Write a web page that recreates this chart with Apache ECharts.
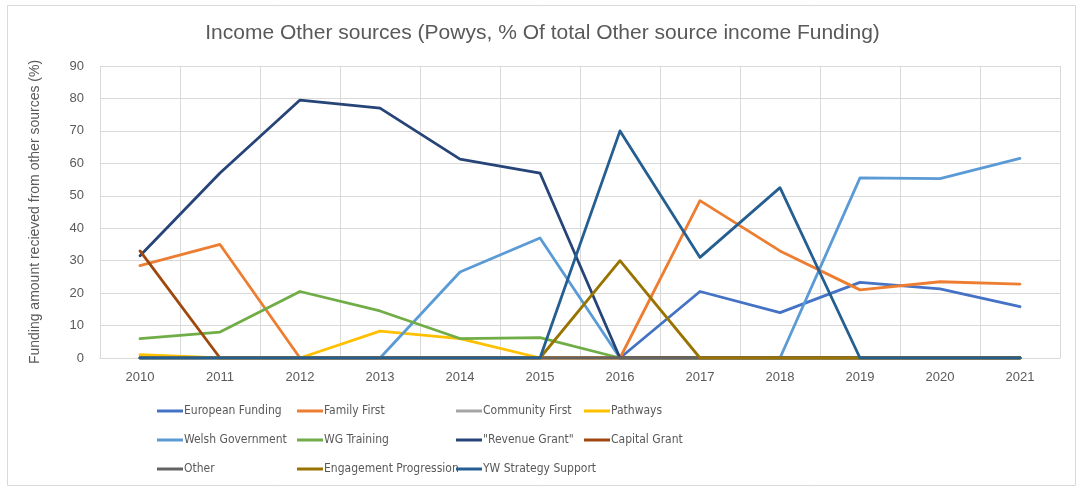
<!DOCTYPE html>
<html>
<head>
<meta charset="utf-8">
<script src="https://cdn.jsdelivr.net/npm/echarts@6/dist/echarts.min.js"></script>
<style>
  html, body { margin: 0; padding: 0; background: #fff; }
  #chart { width: 1085px; height: 490px; }
</style>
</head>
<body>
<div id="chart"></div>
<script>
const years = ['2010', '2011', '2012', '2013', '2014', '2015', '2016', '2017', '2018', '2019', '2020', '2021'];

const europeanFunding = [0, 0, 0, 0, 0, 0, 0, 20.5, 14, 23.3, 21.3, 15.8];
const familyFirst = [28.5, 35, 0, 0, 0, 0, 0, 48.5, 33, 21, 23.5, 22.8];
const communityFirst = [0, 0, 0, 0, 0, 0, 0, 0, 0, 0, 0, 0];
const pathways = [1, 0, 0, 8.3, 6, 0, 0, 0, 0, 0, 0, 0];
const welshGovernment = [0, 0, 0, 0, 26.5, 37, 0, 0, 0, 55.5, 55.3, 61.5];
const wgTraining = [6, 8, 20.5, 14.5, 6, 6.3, 0, 0, 0, 0, 0, 0];
const revenueGrant = [31.5, 57, 79.5, 77, 61.3, 57, 0, 0, 0, 0, 0, 0];
const capitalGrant = [33, 0, 0, 0, 0, 0, 0, 0, 0, 0, 0, 0];
const other = [0, 0, 0, 0, 0, 0, 0, 0, 0, 0, 0, 0];
const engagementProgression = [0, 0, 0, 0, 0, 0, 30, 0, 0, 0, 0, 0];
const ywStrategySupport = [0, 0, 0, 0, 0, 0, 70, 31, 52.5, 0, 0, 0];

const seriesDefs = [
  ['European Funding', europeanFunding, '#4472C4'],
  ['Family First', familyFirst, '#ED7D31'],
  ['Community First', communityFirst, '#A5A5A5'],
  ['Pathways', pathways, '#FFC000'],
  ['Welsh Government', welshGovernment, '#5B9BD5'],
  ['WG Training', wgTraining, '#70AD47'],
  ['"Revenue Grant"', revenueGrant, '#264478'],
  ['Capital Grant', capitalGrant, '#9E480E'],
  ['Other', other, '#636363'],
  ['Engagement Progression', engagementProgression, '#997300'],
  ['YW Strategy Support', ywStrategySupport, '#255E91'],
];

const font = '"Liberation Sans", sans-serif';
const narrowFont = '"DejaVu Sans Condensed", "Liberation Sans", sans-serif';
const textColor = '#595959';
const gridColor = '#d9d9d9';

// legend laid out in 4 columns, 3 rows (row-major order like the original)
const legendCols = [157, 297, 456, 584];
const legends = legendCols.map((left, c) => ({
  orient: 'vertical',
  left,
  top: 405,
  padding: 0,
  itemGap: 17,
  itemWidth: 26,
  itemHeight: 3,
  icon: 'rect',
  data: seriesDefs.filter((d, i) => i % 4 === c).map((d) => d[0]),
  textStyle: { fontFamily: narrowFont, fontSize: 12, color: textColor, padding: [0, 0, 0, -4] },
}));

const chart = echarts.init(document.getElementById('chart'));

chart.setOption({
  backgroundColor: '#fff',
  animation: false,
  textStyle: { fontFamily: font },
  title: {
    text: 'Income Other sources (Powys, % Of total Other source income Funding)',
    left: 'center',
    top: 18,
    textStyle: { fontFamily: font, fontSize: 21, fontWeight: 'normal', color: textColor },
  },
  graphic: [{
    type: 'rect',
    shape: { x: 7.5, y: 5.5, width: 1068, height: 480 },
    style: { fill: 'none', stroke: gridColor, lineWidth: 1 },
    silent: true,
  }],
  legend: legends,
  grid: { left: 100, right: 25, top: 66, bottom: 132 },
  xAxis: {
    type: 'category',
    data: years,
    boundaryGap: true,
    axisLine: { lineStyle: { color: gridColor } },
    axisTick: { show: false },
    axisLabel: { color: textColor, fontSize: 13, margin: 13 },
    splitLine: { show: true, lineStyle: { color: gridColor } },
  },
  yAxis: {
    type: 'value',
    min: 0,
    max: 90,
    interval: 10,
    name: 'Funding amount recieved from other sources (%)',
    nameLocation: 'middle',
    nameGap: 58,
    nameTextStyle: { fontFamily: font, fontSize: 14, color: textColor },
    axisLine: { show: false },
    axisTick: { show: false },
    axisLabel: { color: textColor, fontSize: 13, margin: 16 },
    splitLine: { lineStyle: { color: gridColor } },
  },
  series: seriesDefs.map(([name, data, color]) => ({
    name,
    type: 'line',
    data,
    symbol: 'none',
    lineStyle: { width: 2.8, color, cap: 'round', join: 'round' },
    itemStyle: { color },
  })),
});
</script>
</body>
</html>
